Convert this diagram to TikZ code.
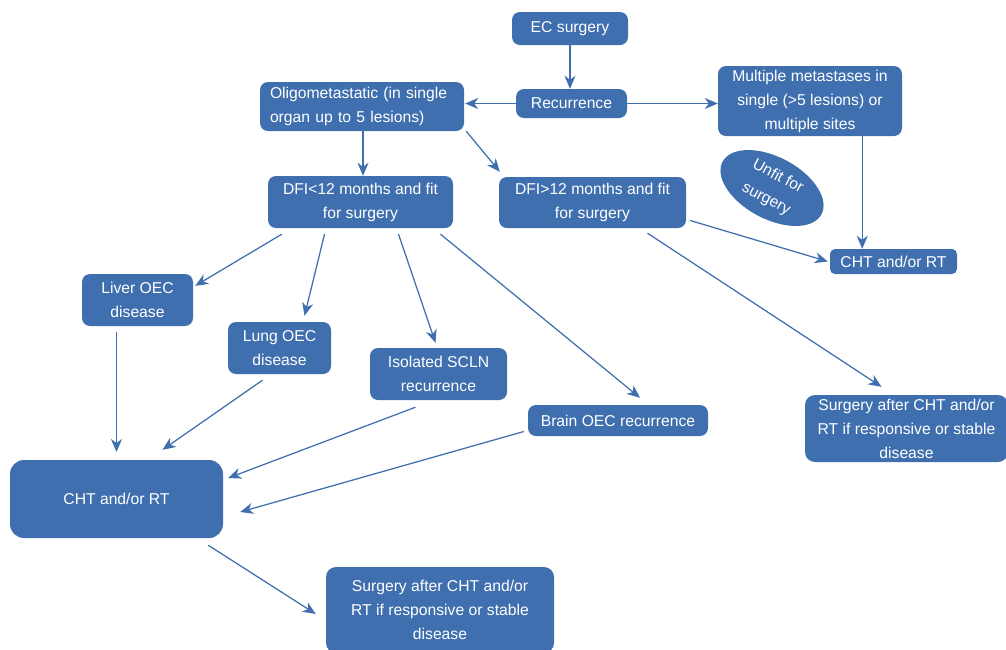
\documentclass[tikz,border=0pt]{standalone}
\usepackage{fontspec}
\setmainfont{Liberation Sans}
\usetikzlibrary{arrows.meta,shapes.geometric}
\definecolor{boxblue}{HTML}{3F6FAE}
\begin{document}
\begin{tikzpicture}[x=1pt,y=-1pt,
  box/.style={draw=none,fill=boxblue,rounded corners=8pt,text=white,inner sep=0pt,
    font=\fontsize{15.7}{24}\selectfont,align=center},
  conn/.style={draw=boxblue,line width=1.25pt,-{Stealth[length=13pt,width=11pt,inset=4pt]}}]
\useasboundingbox (0,0) rectangle (1006,649);
\node[box,minimum width=116pt,minimum height=33pt] (ec) at (570,28.5) {EC surgery};
\node[box,minimum width=111pt,minimum height=29pt] (rec) at (571.5,103.5) {Recurrence};
\node[box,minimum width=204pt,minimum height=49pt,align=left,text width=184pt] (oligo) at (362,106.5) {Oligometastatic (in single\\organ up to 5 lesions)};
\node[box,minimum width=184pt,minimum height=70pt] (multi) at (810,101) {Multiple metastases in\\single (>5 lesions) or\\multiple sites};
\node[ellipse,fill=boxblue,text=white,minimum width=112pt,minimum height=62pt,inner sep=0pt,rotate=-28,align=center,font=\fontsize{15.7}{25}\selectfont] (unfit) at (772,188) {Unfit for\\surgery};
\node[box,minimum width=185pt,minimum height=52pt] (dfi1) at (360.5,202) {DFI<12 months and fit\\for surgery};
\node[box,minimum width=187pt,minimum height=51pt] (dfi2) at (592.5,202.5) {DFI>12 months and fit\\for surgery};
\node[box,minimum width=127pt,minimum height=25pt,rounded corners=5pt] (cht1) at (893.5,261.5) {CHT and/or RT};
\node[box,minimum width=111pt,minimum height=52pt] (liver) at (137.5,300) {Liver OEC\\disease};
\node[box,minimum width=103pt,minimum height=52pt] (lung) at (279.5,348) {Lung OEC\\disease};
\node[box,minimum width=137pt,minimum height=52pt] (scln) at (438.5,374) {Isolated SCLN\\recurrence};
\node[box,minimum width=180pt,minimum height=31pt] (brain) at (618,420.5) {Brain OEC recurrence};
\node[box,minimum width=203pt,minimum height=67pt,rounded corners=10pt] (surg1) at (906.5,428.5) {Surgery after CHT and/or\\RT if responsive or stable\\disease};
\node[box,minimum width=213pt,minimum height=78pt,rounded corners=14pt] (cht2) at (116.5,499) {CHT and/or RT};
\node[box,minimum width=228pt,minimum height=86pt,rounded corners=10pt] (surg2) at (440,610) {Surgery after CHT and/or\\RT if responsive or stable\\disease};

\draw[conn] (ec.south) -- (ec.south |- rec.north);
\draw[conn] (rec.west) -- ([xshift=1]oligo.east |- rec.west);
\draw[conn] (rec.east) -- (multi.west |- rec.east);
\draw[conn] ([xshift=1]oligo.south) -- ([xshift=1]oligo.south |- dfi1.north);
\draw[conn] ([xshift=2]oligo.south east) -- ([shift={(1,-5)}]dfi2.north west);
\draw[conn] ([xshift=-40]multi.south east) -- ([xshift=-40]multi.south east |- cht1.north);
\draw[conn] ([shift={(4,18)}]dfi2.east) -- ([xshift=-2]cht1.west);
\draw[conn] ([shift={(55,5)}]dfi2.south) -- ([shift={(-25,-8)}]surg1.north);
\draw[conn] ([shift={(14,6)}]dfi1.south west) -- ([shift={(2,12)}]liver.north east);
\draw[conn] ([shift={(-36,6)}]dfi1.south) -- ([shift={(25,-6)}]lung.north);
\draw[conn] ([shift={(38,6)}]dfi1.south) -- ([shift={(-3,-5)}]scln.north);
\draw[conn] ([shift={(80,6)}]dfi1.south) -- ([shift={(22,-7)}]brain.north);
\draw[conn] ([shift={(-21,6)}]liver.south) -- ([xshift=-21]liver.south |- {(0,452)});
\draw[conn] ([shift={(-17,6)}]lung.south) -- ([shift={(46,-10)}]cht2.north);
\draw[conn] ([shift={(-23,7)}]scln.south) -- ([shift={(5,-21)}]cht2.east);
\draw[conn] ([shift={(-4,11)}]brain.west) -- ([shift={(17,13)}]cht2.east);
\draw[conn] ([shift={(-15,7)}]cht2.south east) -- ([shift={(-10,4)}]surg2.west);
\end{tikzpicture}
\end{document}
